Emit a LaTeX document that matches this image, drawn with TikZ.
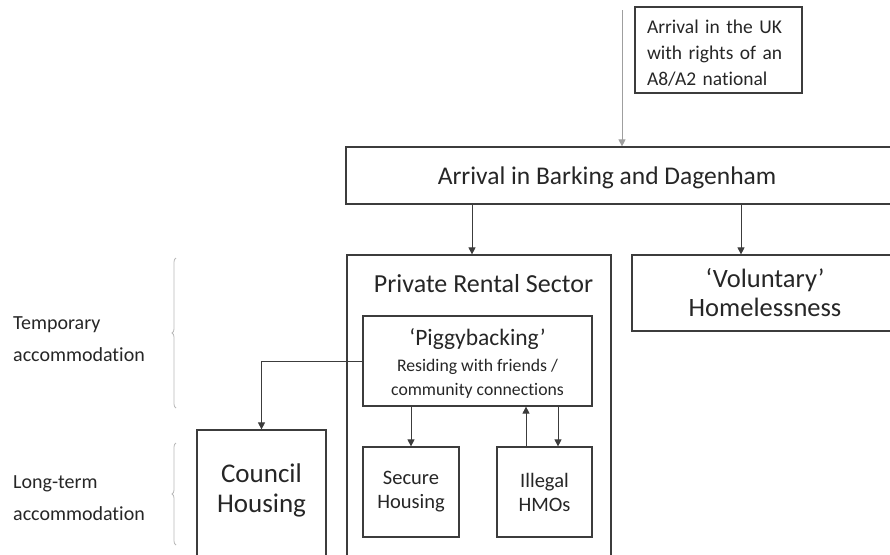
\documentclass[tikz,border=0pt]{standalone}
\usepackage{fontspec}
\setmainfont{Carlito}[Ligatures=NoCommon]
\usetikzlibrary{arrows.meta,decorations.pathreplacing}
\pgfdeclarelayer{edgelayer}
\pgfdeclarelayer{nodelayer}
\pgfsetlayers{edgelayer,nodelayer,main}
\definecolor{boxline}{HTML}{3C3C3C}
\definecolor{inkgray}{HTML}{262626}
\tikzset{font=\fontsize{20}{26}\selectfont}
\tikzstyle{none}=[inner sep=0pt, text=inkgray]
\tikzstyle{box}=[draw=boxline, line width=1.2pt, inner sep=0pt, align=center, text=inkgray]
\tikzstyle{flow}=[draw=boxline, line width=0.8pt, -{Triangle[length=7pt,width=7pt]}]
\tikzstyle{inflow}=[draw=gray!75, line width=1pt, -{Triangle[length=7pt,width=7pt]}]
\tikzstyle{sidebrace}=[draw=gray!55, line width=0.8pt, decorate, decoration={brace,amplitude=4pt}]

\begin{document}
\begin{tikzpicture}[x=1pt, y=1pt]
	\useasboundingbox (0, 0) rectangle (890, -554);
	\begin{pgfonlayer}{nodelayer}
		\node [style=box, minimum width=167pt, minimum height=86pt, text width=143pt, align=left, font=\fontsize{19.5}{26}\selectfont] (0) at (718.5, -50) {\rule{0pt}{19pt}Arrival in the UK\\with rights of an\\A8/A2 national};
		\node [style=none] (1) at (622, -10) {};
		\node [style=box, minimum width=554pt, minimum height=57pt] (2) at (623, -175.5) {};
		\node [style=none, anchor=base, font=\fontsize{25.5}{30}\selectfont] (3) at (607, -184) {Arrival in Barking and Dagenham};
		\node [style=box, minimum width=264pt, minimum height=365pt] (4) at (479, -437.5) {};
		\node [style=none, anchor=base, font=\fontsize{26}{30}\selectfont] (5) at (483.5, -292) {Private Rental Sector};
		\node [style=box, minimum width=266pt, minimum height=76pt, font=\fontsize{26.5}{29}\selectfont] (6) at (765, -293) {‘Voluntary’\\Homelessness};
		\node [style=box, minimum width=229pt, minimum height=90pt] (7) at (477.5, -361) {{\fontsize{23.5}{22}\selectfont\rule{0pt}{22pt}‘Piggybacking’}\\[-0.5pt]{\fontsize{17.7}{21}\selectfont Residing with friends /}\\[-1.5pt]{\fontsize{17.7}{21}\selectfont community connections}};
		\node [style=box, minimum width=96pt, minimum height=90pt, font=\fontsize{20.5}{24}\selectfont] (8) at (411, -492) {Secure\\Housing};
		\node [style=box, minimum width=95pt, minimum height=90pt, font=\fontsize{20.5}{24}\selectfont] (9) at (544.5, -492) {Illegal\\HMOs};
		\node [style=box, minimum width=129pt, minimum height=190pt] (10) at (261.5, -525) {};
		\node [style=none, anchor=base, align=center, font=\fontsize{27}{30}\selectfont] (11) at (261.5, -512) {Council\\Housing};
		\node [style=none, anchor=base west, align=left, font=\fontsize{20}{32}\selectfont] (12) at (13, -361) {Temporary\\accommodation};
		\node [style=none, anchor=base west, align=left, font=\fontsize{20}{32}\selectfont] (13) at (13, -520) {Long-term\\accommodation};
		\node [style=none] (14) at (176, -408) {};
		\node [style=none] (15) at (176, -258) {};
		\node [style=none] (16) at (176, -545) {};
		\node [style=none] (17) at (176, -443) {};
	\end{pgfonlayer}
	\begin{pgfonlayer}{edgelayer}
		\draw [style=inflow] (1.center) to (1.center |- 2.north);
		\draw [style=flow] ([xshift=-151pt]2.south) to ([xshift=-7pt]4.north);
		\draw [style=flow] ([xshift=118pt]2.south) to ([xshift=-24pt]6.north);
		\draw [style=flow] (7.south -| 8.north) to (8.north);
		\draw [style=flow] ([xshift=-18.5pt]9.north) to ([xshift=48.5pt]7.south);
		\draw [style=flow] ([xshift=80.5pt]7.south) to ([xshift=13.5pt]9.north);
		\draw [style=flow] (7.west) -| (10.north);
		\draw [style=sidebrace] (14.center) to (15.center);
		\draw [style=sidebrace] (16.center) to (17.center);
	\end{pgfonlayer}
\end{tikzpicture}
\end{document}
